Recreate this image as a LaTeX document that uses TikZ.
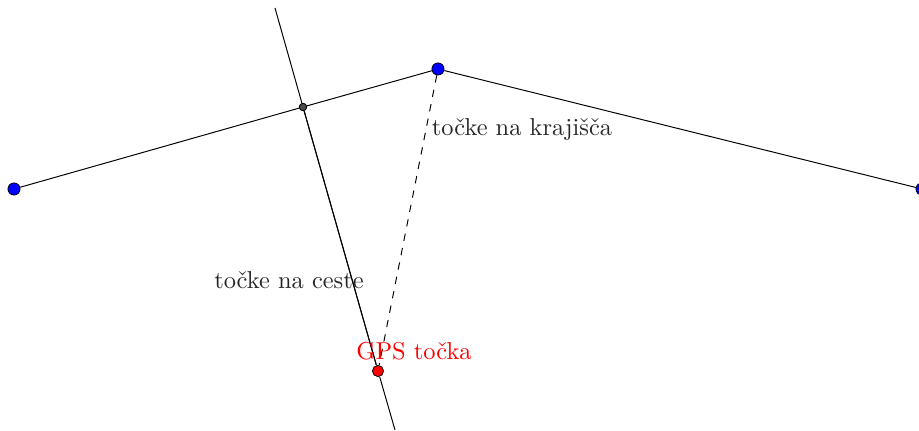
\documentclass[tikz,border=0pt]{standalone}
\begin{document}
\begin{tikzpicture}[x=0.409pt,y=-0.409pt,
  bluept/.style={circle,draw=black,fill=blue,line width=0.3pt,inner sep=0pt,minimum size=5pt},
  redpt/.style={circle,draw=black,fill=red,line width=0.3pt,inner sep=0pt,minimum size=4.6pt},
  grypt/.style={circle,draw=black,fill=black!70,line width=0.3pt,inner sep=0pt,minimum size=3pt},
  seg/.style={line width=0.4pt,black},
  lbl/.style={font=\normalsize,text=black!85}]
\useasboundingbox (0,0) rectangle (919,430);
\coordinate (top) at (275,8);
\coordinate (bot) at (395,430);
\node[bluept] (L) at (14,189) {};
\node[bluept] (T) at (438,69) {};
\node[bluept] (R) at (922,189) {};
\node[grypt] (X) at (303,107) {};
\node[redpt] (G) at (378,371) {};
\draw[seg] (L) -- (X) -- (T) -- (R);
\draw[seg] (top) -- (X) -- (G) -- (bot);
\draw[seg] (X) -- (G);
\draw[seg,dashed] (T) -- (G);
\node[grypt] at (303,107) {};
\node[lbl] (a) at (522,130) {točke na krajišča};
\node[lbl] (b) at (289,280) {točke na ceste};
\node[font=\normalsize,text=red] (c) at (414,351) {GPS točka};
\end{tikzpicture}
\end{document}
